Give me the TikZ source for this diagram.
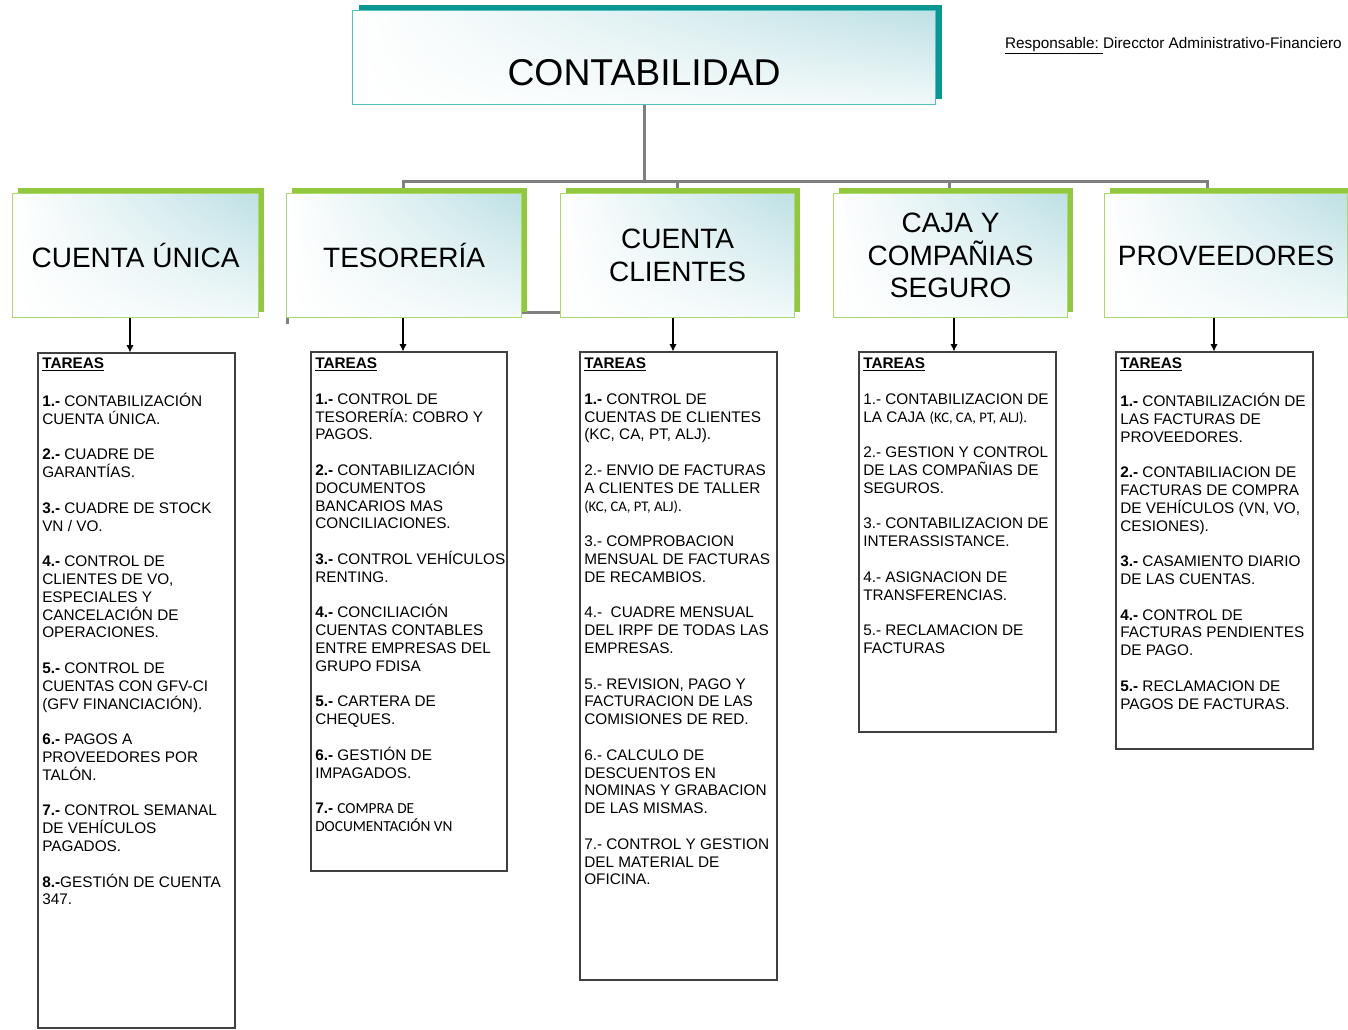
\documentclass[tikz,border=0pt]{standalone}
\usepackage{fontspec}
\setmainfont{Liberation Sans}
\newfontfamily\calib{Carlito}
\usepackage{xcolor}
\usetikzlibrary{shapes,arrows.meta,positioning,fit,calc,shadows,shadings,backgrounds}

\definecolor{hdrblue}{RGB}{189,224,228}
\definecolor{hdrgreen}{RGB}{146,200,62}
\definecolor{hdrline}{RGB}{172,216,112}
\definecolor{tealdark}{RGB}{12,150,145}
\definecolor{teallight}{RGB}{84,192,192}
\definecolor{conngray}{RGB}{128,128,128}

\newcommand{\tareas}{\strut\underline{\textbf{TAREAS}}}
\newcommand{\nro}[1]{\textbf{#1}}
\newcommand{\gap}{\\[13.35pt]}

\begin{document}
\begin{tikzpicture}[
    x=0.75pt, y=-0.75pt,
    mainbox/.style={anchor=north west, inner sep=0, draw=teallight, line width=0.9pt,
        upper left=white, upper right=hdrblue, lower left=white, lower right=hdrblue!20,
        drop shadow={shadow xshift=4.5pt, shadow yshift=4.5pt, fill=tealdark, opacity=1},
        font=\fontsize{28}{32}\selectfont},
    hdr/.style={anchor=north west, inner sep=0, minimum height=93pt,
        draw=hdrline, line width=0.9pt, align=center,
        upper left=white, upper right=hdrblue, lower left=white, lower right=hdrblue!20,
        drop shadow={shadow xshift=4pt, shadow yshift=4pt, fill=hdrgreen, opacity=1},
        font=\fontsize{21}{24.4}\selectfont},
    task/.style={inner sep=0, draw=black!75, line width=0.9pt},
    tasktxt/.style={anchor=north west, inner sep=0, align=left,
        font=\fontsize{11.5}{13.35}\selectfont},
    conn/.style={draw=conngray, line width=2.25pt},
    arr/.style={-{Latex[length=5.5pt,width=5.5pt]}, line width=0.8pt}
]
    \useasboundingbox (0,0) rectangle (1348,1029);

    % Top box
    \node[mainbox, minimum width=437.25pt, minimum height=70.5pt,
        text height=42pt, text depth=0pt] (conta) at (352,10) {CONTABILIDAD};
    \node[anchor=east, inner sep=0, font=\fontsize{11.5}{13.35}\selectfont] (resp) at (1342,46)
        {\underline{Responsable:\ }Direcctor Administrativo-Financiero};

    % Areas
    \node[hdr, minimum width=184.5pt] (cu) at (12,193) {CUENTA ÚNICA};
    \node[hdr, minimum width=176.25pt] (te) at (286,193) {TESORERÍA};
    \node[hdr, minimum width=175.5pt] (cc) at (560,193) {CUENTA\\CLIENTES};
    \node[hdr, minimum width=175.5pt] (cs) at (833,193) {CAJA Y\\COMPAÑIAS\\SEGURO};
    \node[hdr, minimum width=182.25pt] (pr) at (1104,193) {PROVEEDORES};

    % Connectors
    \coordinate (b2) at (403,181);
    \coordinate (b3) at (677,181);
    \coordinate (b4) at (949,181);
    \coordinate (b5) at (1207,181);
    \coordinate (k1) at (287,324);
    \coordinate (k2) at (560,312);
    \begin{scope}[on background layer]
        \draw[conn] (conta.south) -- (conta.south |- b2);
        \draw[conn] (b2 |- te.north) -- (b2) -- (b5) -- (b5 |- pr.north);
        \draw[conn] (b3) -- (b3 |- cc.north);
        \draw[conn] (b4) -- (b4 |- cs.north);
        \draw[conn] (k1) |- (k2);
    \end{scope}

    % Task boxes
    \node[task, fit={(38,353) (235,1028)}] (t1) {};
    \node[task, fit={(311,352) (507,871)}] (t2) {};
    \node[task, fit={(580,352) (777,980)}] (t3) {};
    \node[task, fit={(859,352) (1056,732)}] (t4) {};
    \node[task, fit={(1116,352) (1313,749)}] (t5) {};

    \coordinate (a1) at (130,0);
    \coordinate (a2) at (403,0);
    \coordinate (a3) at (673,0);
    \coordinate (a4) at (954,0);
    \coordinate (a5) at (1214,0);
    \draw[arr] (a1 |- cu.south) -- (a1 |- t1.north);
    \draw[arr] (a2 |- te.south) -- (a2 |- t2.north);
    \draw[arr] (a3 |- cc.south) -- (a3 |- t3.north);
    \draw[arr] (a4 |- cs.south) -- (a4 |- t4.north);
    \draw[arr] (a5 |- pr.south) -- (a5 |- t5.north);

    % Tasks
    \node[tasktxt] (t1txt) at (42,356) {\tareas\gap
        \nro{1.-} CONTABILIZACIÓN\\CUENTA ÚNICA.\gap
        \nro{2.-} CUADRE DE\\GARANTÍAS.\gap
        \nro{3.-} CUADRE DE STOCK\\VN / VO.\gap
        \nro{4.-} CONTROL DE\\CLIENTES DE VO,\\ESPECIALES Y\\CANCELACIÓN DE\\OPERACIONES.\gap
        \nro{5.-} CONTROL DE\\CUENTAS CON GFV-CI\\(GFV FINANCIACIÓN).\gap
        \nro{6.-} PAGOS A\\PROVEEDORES POR\\TALÓN.\gap
        \nro{7.-} CONTROL SEMANAL\\DE VEHÍCULOS\\PAGADOS.\gap
        \nro{8.-}GESTIÓN DE CUENTA\\347.};
    \node[tasktxt] (t2txt) at (315,356) {\tareas\gap
        \nro{1.-} CONTROL DE\\TESORERÍA: COBRO Y\\PAGOS.\gap
        \nro{2.-} CONTABILIZACIÓN\\DOCUMENTOS\\BANCARIOS MAS\\CONCILIACIONES.\gap
        \nro{3.-} CONTROL VEHÍCULOS\\RENTING.\gap
        \nro{4.-} CONCILIACIÓN\\CUENTAS CONTABLES\\ENTRE EMPRESAS DEL\\GRUPO FDISA\gap
        \nro{5.-} CARTERA DE\\CHEQUES.\gap
        \nro{6.-} GESTIÓN DE\\IMPAGADOS.\gap
        \nro{7.-} {\calib COMPRA DE}\\{\calib DOCUMENTACIÓN VN}};
    \node[tasktxt] (t3txt) at (584,356) {\tareas\gap
        \nro{1.-} CONTROL DE\\CUENTAS DE CLIENTES\\(KC, CA, PT, ALJ).\gap
        2.- ENVIO DE FACTURAS\\A CLIENTES DE TALLER\\{\calib\fontsize{11}{13.35}\selectfont (KC, CA, PT, ALJ).}\gap
        3.- COMPROBACION\\MENSUAL DE FACTURAS\\DE RECAMBIOS.\gap
        4.-~ CUADRE MENSUAL\\DEL IRPF DE TODAS LAS\\EMPRESAS.\gap
        5.- REVISION, PAGO Y\\FACTURACION DE LAS\\COMISIONES DE RED.\gap
        6.- CALCULO DE\\DESCUENTOS EN\\NOMINAS Y GRABACION\\DE LAS MISMAS.\gap
        7.- CONTROL Y GESTION\\DEL MATERIAL DE\\OFICINA.};
    \node[tasktxt] (t4txt) at (863,356) {\tareas\gap
        1.- CONTABILIZACION DE\\LA CAJA {\calib\fontsize{11}{13.35}\selectfont (KC, CA, PT, ALJ).}\gap
        2.- GESTION Y CONTROL\\DE LAS COMPAÑIAS DE\\SEGUROS.\gap
        3.- CONTABILIZACION DE\\INTERASSISTANCE.\gap
        4.- ASIGNACION DE\\TRANSFERENCIAS.\gap
        5.- RECLAMACION DE\\FACTURAS};
    \node[tasktxt] (t5txt) at (1120,356) {\tareas\gap
        \nro{1.-} CONTABILIZACIÓN DE\\LAS FACTURAS DE\\PROVEEDORES.\gap
        \nro{2.-} CONTABILIACION DE\\FACTURAS DE COMPRA\\DE VEHÍCULOS (VN, VO,\\CESIONES).\gap
        \nro{3.-} CASAMIENTO DIARIO\\DE LAS CUENTAS.\gap
        \nro{4.-} CONTROL DE\\FACTURAS PENDIENTES\\DE PAGO.\gap
        \nro{5.-} RECLAMACION DE\\PAGOS DE FACTURAS.};
\end{tikzpicture}
\end{document}
